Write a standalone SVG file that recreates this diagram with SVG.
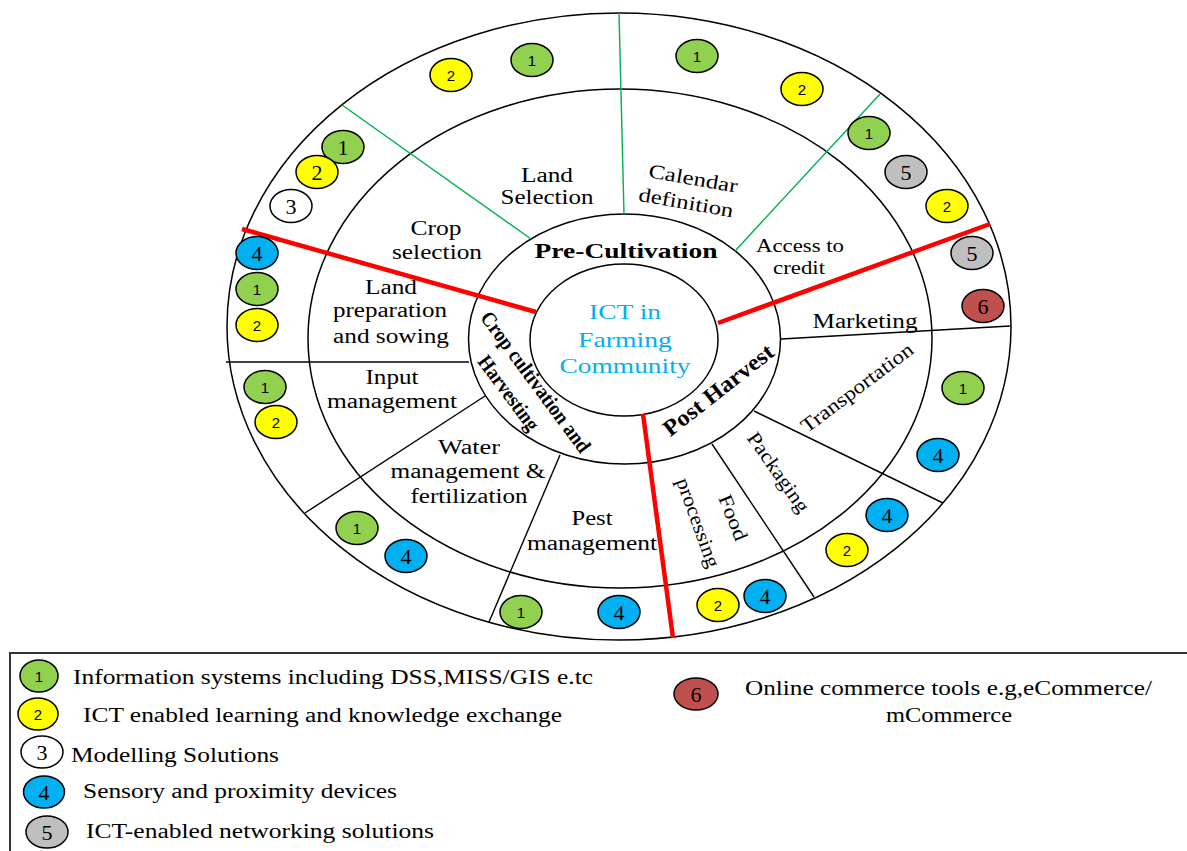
<svg xmlns="http://www.w3.org/2000/svg" width="1187" height="851" viewBox="0 0 1187 851">
<style>
.ring{fill:none;stroke:#000;stroke-width:1.5}
.dv{stroke:#000;stroke-width:1.4;fill:none}
.gl{stroke:#00B050;stroke-width:1.4;fill:none}
.rl{stroke:#FF0000;stroke-width:4.5;fill:none}
.lbl{font-family:"Liberation Serif","Times New Roman",serif;font-size:20px;fill:#000;text-anchor:middle}
.sm{font-size:18px}
.bo{font-weight:bold}
.ctr{font-family:"Liberation Serif","Times New Roman",serif;font-size:22px;fill:#00B0F0;text-anchor:middle}
.bd{stroke:#000;stroke-width:1.5}
.c1{fill:#92D050}.c2{fill:#FFFF00}.c3{fill:#FFFFFF}.c4{fill:#00B0F0}.c5{fill:#BFBFBF}.c6{fill:#C0504D}
.ns{font-family:"Liberation Sans",Arial,sans-serif;font-size:15px;fill:#000;text-anchor:middle}
.nr{font-family:"Liberation Serif","Times New Roman",serif;font-size:22px;fill:#000;text-anchor:middle}
.leg{font-family:"Liberation Serif","Times New Roman",serif;font-size:20.5px;fill:#000}
</style>
<rect x="0" y="0" width="1187" height="851" fill="#fff"/>

<g id="rings">
<ellipse id="ring-outer" class="ring" cx="619" cy="326.5" rx="392" ry="313.5"/>
<ellipse id="ring-middle" class="ring" cx="620" cy="338.5" rx="312" ry="249.5"/>
<ellipse id="ring-stage" class="ring" cx="624.5" cy="339" rx="156" ry="125"/>
<ellipse id="ring-inner" class="ring" cx="624" cy="340" rx="94" ry="76"/>
</g>

<g id="connectors">
<line class="gl" x1="342" y1="105" x2="531" y2="239"/>
<line class="gl" x1="619" y1="13" x2="624" y2="214"/>
<line class="gl" x1="880" y1="94" x2="735" y2="251"/>
<line class="dv" x1="226" y1="362" x2="469" y2="362"/>
<line class="dv" x1="485" y1="396" x2="305" y2="513"/>
<line class="dv" x1="560" y1="455" x2="489" y2="622"/>
<line class="dv" x1="781" y1="339" x2="1010" y2="326"/>
<line class="dv" x1="754" y1="411" x2="943" y2="503"/>
<line class="dv" x1="712" y1="444" x2="814" y2="597"/>
<line class="rl" x1="242" y1="229" x2="536" y2="312"/>
<line class="rl" x1="990" y1="224" x2="718" y2="323"/>
<line class="rl" x1="643" y1="414" x2="673" y2="638"/>
</g>

<g id="center">
<text class="ctr" x="625" y="319" textLength="72" lengthAdjust="spacingAndGlyphs">ICT in</text>
<text class="ctr" x="625" y="347" textLength="94" lengthAdjust="spacingAndGlyphs">Farming</text>
<text class="ctr" x="625" y="373" textLength="131" lengthAdjust="spacingAndGlyphs">Community</text>
</g>

<g id="stages">
<text id="pre-cultivation" class="lbl bo" style="font-size:22px" x="626" y="258" textLength="183" lengthAdjust="spacingAndGlyphs">Pre-Cultivation</text>
<g id="crop-cultivation">
<text class="lbl bo" style="font-size:21px" transform="translate(530 386) rotate(53.5)" textLength="170" lengthAdjust="spacingAndGlyphs">Crop cultivation and</text>
<text class="lbl bo" style="font-size:21px" transform="translate(503 397) rotate(53.5)" textLength="88" lengthAdjust="spacingAndGlyphs">Harvesting</text>
</g>
<text id="post-harvest" class="lbl bo" style="font-size:23px" transform="translate(723 396) rotate(-38)" textLength="134" lengthAdjust="spacingAndGlyphs">Post Harvest</text>
</g>

<g id="activities">
<g id="land-selection"><text class="lbl" x="547" y="182" textLength="52" lengthAdjust="spacingAndGlyphs">Land</text><text class="lbl" x="547" y="204" textLength="93" lengthAdjust="spacingAndGlyphs">Selection</text></g>
<g id="crop-selection"><text class="lbl" x="436" y="235" textLength="51" lengthAdjust="spacingAndGlyphs">Crop</text><text class="lbl" x="437" y="259" textLength="90" lengthAdjust="spacingAndGlyphs">selection</text></g>
<g id="land-preparation"><text class="lbl" x="391" y="294" textLength="52" lengthAdjust="spacingAndGlyphs">Land</text><text class="lbl" x="390" y="317" textLength="114" lengthAdjust="spacingAndGlyphs">preparation</text><text class="lbl" x="391" y="343" textLength="116" lengthAdjust="spacingAndGlyphs">and sowing</text></g>
<g id="input-management"><text class="lbl" x="392" y="384" textLength="53" lengthAdjust="spacingAndGlyphs">Input</text><text class="lbl" x="392" y="408" textLength="130" lengthAdjust="spacingAndGlyphs">management</text></g>
<g id="water-management"><text class="lbl" x="469" y="454" textLength="62" lengthAdjust="spacingAndGlyphs">Water</text><text class="lbl" x="468" y="478" textLength="155" lengthAdjust="spacingAndGlyphs">management &amp;</text><text class="lbl" x="469" y="503" textLength="117" lengthAdjust="spacingAndGlyphs">fertilization</text></g>
<g id="pest-management"><text class="lbl" x="592" y="525" textLength="41" lengthAdjust="spacingAndGlyphs">Pest</text><text class="lbl" x="592" y="550" textLength="130" lengthAdjust="spacingAndGlyphs">management</text></g>
<g id="calendar-definition"><text class="lbl" transform="translate(692 185) rotate(10)" textLength="90" lengthAdjust="spacingAndGlyphs">Calendar</text><text class="lbl" transform="translate(685 209) rotate(10)" textLength="96" lengthAdjust="spacingAndGlyphs">definition</text></g>
<g id="access-to-credit"><text class="lbl sm" x="800" y="252" textLength="88" lengthAdjust="spacingAndGlyphs">Access to</text><text class="lbl sm" x="799" y="274" textLength="52" lengthAdjust="spacingAndGlyphs">credit</text></g>
<g id="marketing"><text class="lbl" x="865" y="328" textLength="105" lengthAdjust="spacingAndGlyphs">Marketing</text></g>
<g id="transportation"><text class="lbl" transform="translate(861 393) rotate(-37)" textLength="135" lengthAdjust="spacingAndGlyphs">Transportation</text></g>
<g id="packaging"><text class="lbl" transform="translate(773 476) rotate(55)" textLength="93" lengthAdjust="spacingAndGlyphs">Packaging</text></g>
<g id="food-processing"><text class="lbl" transform="translate(727 520) rotate(68)" textLength="48" lengthAdjust="spacingAndGlyphs">Food</text><text class="lbl" transform="translate(692 525) rotate(70)" textLength="94" lengthAdjust="spacingAndGlyphs">processing</text></g>
</g>

<g id="badges">
<g id="b-ls"><ellipse class="bd c2" cx="451" cy="75" rx="21" ry="16.5"/><text class="ns" x="451" y="80.5">2</text><ellipse class="bd c1" cx="532" cy="60" rx="21" ry="16.5"/><text class="ns" x="532" y="65.5">1</text></g>
<g id="b-cs"><ellipse class="bd c1" cx="343" cy="147" rx="21" ry="16.5"/><text class="nr" x="343" y="155">1</text><ellipse class="bd c2" cx="317" cy="172" rx="21" ry="16.5"/><text class="nr" x="317" y="180">2</text><ellipse class="bd c3" cx="291" cy="206" rx="21" ry="16.5"/><text class="nr" x="291" y="214">3</text></g>
<g id="b-cd"><ellipse class="bd c1" cx="697" cy="56" rx="21" ry="16.5"/><text class="ns" x="697" y="61.5">1</text><ellipse class="bd c2" cx="802" cy="89" rx="21" ry="16.5"/><text class="ns" x="802" y="94.5">2</text></g>
<g id="b-ac"><ellipse class="bd c1" cx="869" cy="133" rx="21" ry="16.5"/><text class="ns" x="869" y="138.5">1</text><ellipse class="bd c5" cx="906" cy="172" rx="21" ry="16.5"/><text class="nr" x="906" y="180">5</text><ellipse class="bd c2" cx="947" cy="206" rx="21" ry="16.5"/><text class="ns" x="947" y="211.5">2</text></g>
<g id="b-mk"><ellipse class="bd c5" cx="972" cy="253" rx="21" ry="16.5"/><text class="nr" x="972" y="261">5</text><ellipse class="bd c6" cx="983" cy="306" rx="21" ry="16.5"/><text class="nr" x="983" y="314">6</text></g>
<g id="b-lp"><ellipse class="bd c4" cx="257" cy="253" rx="21" ry="16.5"/><text class="nr" x="257" y="261">4</text><ellipse class="bd c1" cx="257" cy="289" rx="21" ry="16.5"/><text class="ns" x="257" y="294.5">1</text><ellipse class="bd c2" cx="257" cy="325" rx="21" ry="16.5"/><text class="ns" x="257" y="330.5">2</text></g>
<g id="b-im"><ellipse class="bd c1" cx="265" cy="387" rx="21" ry="16.5"/><text class="ns" x="265" y="392.5">1</text><ellipse class="bd c2" cx="276" cy="422" rx="21" ry="16.5"/><text class="ns" x="276" y="427.5">2</text></g>
<g id="b-wm"><ellipse class="bd c1" cx="357" cy="528" rx="21" ry="16.5"/><text class="ns" x="357" y="533.5">1</text><ellipse class="bd c4" cx="406" cy="556" rx="21" ry="16.5"/><text class="nr" x="406" y="564">4</text></g>
<g id="b-pm"><ellipse class="bd c1" cx="521" cy="612" rx="21" ry="16.5"/><text class="ns" x="521" y="617.5">1</text><ellipse class="bd c4" cx="619" cy="612" rx="21" ry="16.5"/><text class="nr" x="619" y="620">4</text></g>
<g id="b-fp"><ellipse class="bd c2" cx="718" cy="605" rx="21" ry="16.5"/><text class="ns" x="718" y="610.5">2</text><ellipse class="bd c4" cx="765" cy="596" rx="21" ry="16.5"/><text class="nr" x="765" y="604">4</text></g>
<g id="b-pk"><ellipse class="bd c2" cx="847" cy="550" rx="21" ry="16.5"/><text class="ns" x="847" y="555.5">2</text><ellipse class="bd c4" cx="887" cy="515" rx="21" ry="16.5"/><text class="nr" x="887" y="523">4</text></g>
<g id="b-tr"><ellipse class="bd c1" cx="963" cy="388" rx="21" ry="16.5"/><text class="ns" x="963" y="393.5">1</text><ellipse class="bd c4" cx="938" cy="455" rx="21" ry="16.5"/><text class="nr" x="938" y="463">4</text></g>
</g>

<g id="legend">
<rect x="10" y="653" width="1200" height="220" fill="none" stroke="#333" stroke-width="2"/>
<g id="leg-1"><ellipse class="bd c1" cx="39" cy="676" rx="19" ry="16"/><text class="ns" x="39" y="681.5">1</text><text class="leg" x="73" y="684" textLength="520" lengthAdjust="spacingAndGlyphs">Information systems including DSS,MISS/GIS e.tc</text></g>
<g id="leg-2"><ellipse class="bd c2" cx="38" cy="714" rx="20" ry="16"/><text class="ns" x="38" y="719.5">2</text><text class="leg" x="83" y="722" textLength="479" lengthAdjust="spacingAndGlyphs">ICT enabled learning and knowledge exchange</text></g>
<g id="leg-3"><ellipse class="bd c3" cx="42" cy="752" rx="21" ry="16"/><text class="nr" x="42" y="760">3</text><text class="leg" x="71" y="762" textLength="208" lengthAdjust="spacingAndGlyphs">Modelling Solutions</text></g>
<g id="leg-4"><ellipse class="bd c4" cx="44" cy="792" rx="20.5" ry="16"/><text class="nr" x="44" y="800">4</text><text class="leg" x="83" y="798" textLength="314" lengthAdjust="spacingAndGlyphs">Sensory and proximity devices</text></g>
<g id="leg-5"><ellipse class="bd c5" cx="47" cy="832" rx="21" ry="16"/><text class="nr" x="47" y="840">5</text><text class="leg" x="86" y="838" textLength="348" lengthAdjust="spacingAndGlyphs">ICT-enabled networking solutions</text></g>
<g id="leg-6"><ellipse class="bd c6" cx="696" cy="694" rx="22" ry="16"/><text class="nr" x="696" y="702">6</text><text class="leg" x="745" y="695" textLength="407" lengthAdjust="spacingAndGlyphs">Online commerce tools e.g,eCommerce/</text><text class="leg" x="949" y="722" text-anchor="middle" textLength="126" lengthAdjust="spacingAndGlyphs">mCommerce</text></g>
</g>
</svg>
